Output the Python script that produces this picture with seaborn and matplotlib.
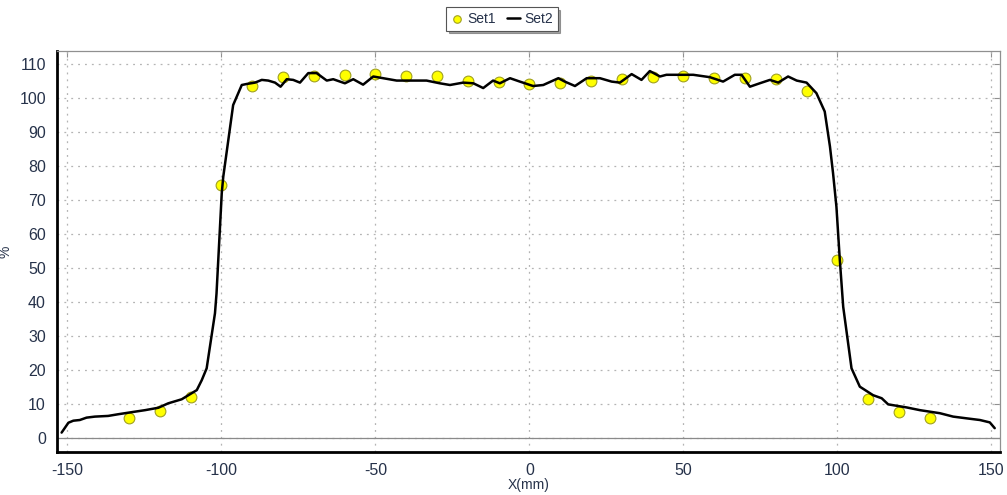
import matplotlib
matplotlib.use("Agg")
import matplotlib.pyplot as plt
from matplotlib.ticker import MultipleLocator
import numpy as np
import pandas as pd
import seaborn as sns

# Measured points (Set1)
set1_x = [-130, -120, -110, -100, -90, -80, -70, -60, -50, -40, -30, -20, -10,
          0, 10, 20, 30, 40, 50, 60, 70, 80, 90, 100, 110, 120, 130]
set1_y = [5.8, 7.9, 12.2, 74.3, 103.6, 106.1, 106.4, 106.7, 106.9, 106.4, 106.5,
          105.1, 104.8, 104.0, 104.3, 105.1, 105.7, 106.1, 106.4, 105.9, 105.8,
          105.7, 102.1, 52.4, 11.6, 7.6, 5.9]

# Reference profile (Set2)
set2_x = [-151.9, -149.7, -148.1, -146.0, -143.8, -141.1, -136.8, -133.5, -129.2,
          -124.8, -120.5, -117.3, -112.9, -108.0, -106.4, -104.8, -102.1, -101.6,
          -99.9, -99.4, -96.2, -93.4, -91.8, -89.1, -86.9, -84.8, -82.6, -80.8,
          -78.8, -76.7, -74.5, -71.8, -69.1, -65.8, -63.7, -61.5, -59.9, -57.2,
          -54.0, -50.7, -47.5, -43.1, -33.4, -29.1, -25.8, -21.5, -18.2, -15.0,
          -11.8, -9.6, -6.3, -3.1, 1.2, 4.5, 9.4, 11.5, 14.8, 18.6, 22.9, 26.7,
          29.4, 33.2, 36.4, 39.1, 42.4, 44.5, 48.9, 53.2, 58.6, 62.9, 66.7, 68.9,
          71.6, 74.8, 78.1, 80.8, 84.0, 86.8, 90.0, 93.2, 95.9, 97.6, 98.6, 99.7,
          100.8, 101.9, 104.6, 107.3, 111.6, 114.4, 116.5, 122.5, 126.8, 133.3,
          137.6, 141.9, 146.3, 149.5, 151.1]
set2_y = [1.6, 4.5, 5.1, 5.3, 6.0, 6.3, 6.5, 7.0, 7.6,
          8.2, 8.9, 10.2, 11.4, 14.1, 17.0, 20.5, 36.7, 42.5,
          72.0, 76.9, 97.9, 103.8, 104.1, 104.5, 105.3, 105.1, 104.5, 103.3,
          105.5, 105.3, 104.5, 107.3, 107.3, 105.1, 105.5, 104.8, 104.3, 105.5,
          103.9, 106.3, 105.8, 105.1, 105.1, 104.3, 103.8, 104.5, 104.3, 102.9,
          105.1, 104.3, 105.8, 104.8, 103.5, 103.8, 105.8, 104.8, 103.5, 105.8, 105.8, 104.8,
          104.5, 107.0, 105.3, 107.9, 106.3, 106.8, 106.8, 106.8, 106.1, 104.8, 106.8, 106.8,
          103.3, 104.3, 105.3, 104.5, 106.3, 105.1, 104.5, 101.4, 96.0, 85.7, 77.9, 68.0,
          52.4, 38.6, 20.5, 15.1, 12.6, 11.7, 9.9, 9.0, 8.2, 7.3,
          6.3, 5.8, 5.3, 4.6, 2.9]

x_ticks = [-150, -100, -50, 0, 50, 100, 150]
y_ticks = [0, 10, 20, 30, 40, 50, 60, 70, 80, 90, 100, 110]

df1 = pd.DataFrame({"x": set1_x, "y": set1_y})
df2 = pd.DataFrame({"x": set2_x, "y": set2_y})

sns.set_style("white")
plt.rcParams["font.family"] = ["Liberation Sans", "DejaVu Sans"]
plt.rcParams["axes.unicode_minus"] = False

fig = plt.figure(figsize=(10.07, 4.95), dpi=100)
ax = fig.add_axes([0.0566, 0.0869, 0.9364, 0.8101])

text_col = "#26324a"

ax.axhline(0, color="#8a8a8a", lw=0.9, zorder=1)

sns.scatterplot(data=df1, x="x", y="y", ax=ax, s=60, color="#ffff00",
                edgecolor="#a0a020", linewidth=0.8, zorder=3, label="Set1")
sns.lineplot(data=df2, x="x", y="y", ax=ax, color="black", lw=1.8,
             estimator=None, sort=False, zorder=4, label="Set2")

ax.set_xlim(-153.4, 152.8)
ax.set_ylim(-4.1, 113.8)
ax.set_xticks(x_ticks)
ax.set_yticks(y_ticks)
ax.xaxis.set_minor_locator(MultipleLocator(12.5))
ax.yaxis.set_minor_locator(MultipleLocator(2.5))

ax.grid(True, which="major", color="#b4b4b4", lw=0.9, linestyle=(0, (1.5, 4)))

ax.tick_params(axis="both", which="major", direction="out", length=5, width=1,
               color="#333333", labelsize=11.5, labelcolor=text_col, pad=3)
ax.tick_params(axis="both", which="minor", direction="out", length=3, width=0.8,
               color="#555555")

# inward major ticks on the top and right frame
top = ax.secondary_xaxis("top")
top.set_xticks(x_ticks)
top.tick_params(direction="in", length=4, width=0.8, color="#909090",
                labeltop=False)
right = ax.secondary_yaxis("right")
right.set_yticks(y_ticks)
right.tick_params(direction="in", length=4, width=0.8, color="#909090",
                  labelright=False)
for sec in (top, right):
    for sp in sec.spines.values():
        sp.set_visible(False)

for side in ["left", "bottom"]:
    ax.spines[side].set_color("black")
    ax.spines[side].set_linewidth(2.0)
for side in ["top", "right"]:
    ax.spines[side].set_color("#909090")
    ax.spines[side].set_linewidth(0.9)

ax.set_xlabel("X(mm)", fontsize=10, color=text_col, labelpad=0)
ax.set_ylabel("%", fontsize=10, color=text_col)
ax.yaxis.set_label_coords(-0.047, 0.5)

handles, labels = ax.get_legend_handles_labels()
ax.get_legend().remove()
leg = fig.legend(handles, labels, loc="center", bbox_to_anchor=(0.4985, 0.962),
                 ncol=2, frameon=True, fancybox=False, shadow=True,
                 fontsize=10, handlelength=0.9, handletextpad=0.3,
                 columnspacing=0.8, borderpad=0.35, markerscale=0.7)
leg.get_frame().set_edgecolor("#555555")
leg.get_frame().set_linewidth(0.8)
for t in leg.get_texts():
    t.set_color(text_col)

fig.savefig("out.png", dpi=100)
